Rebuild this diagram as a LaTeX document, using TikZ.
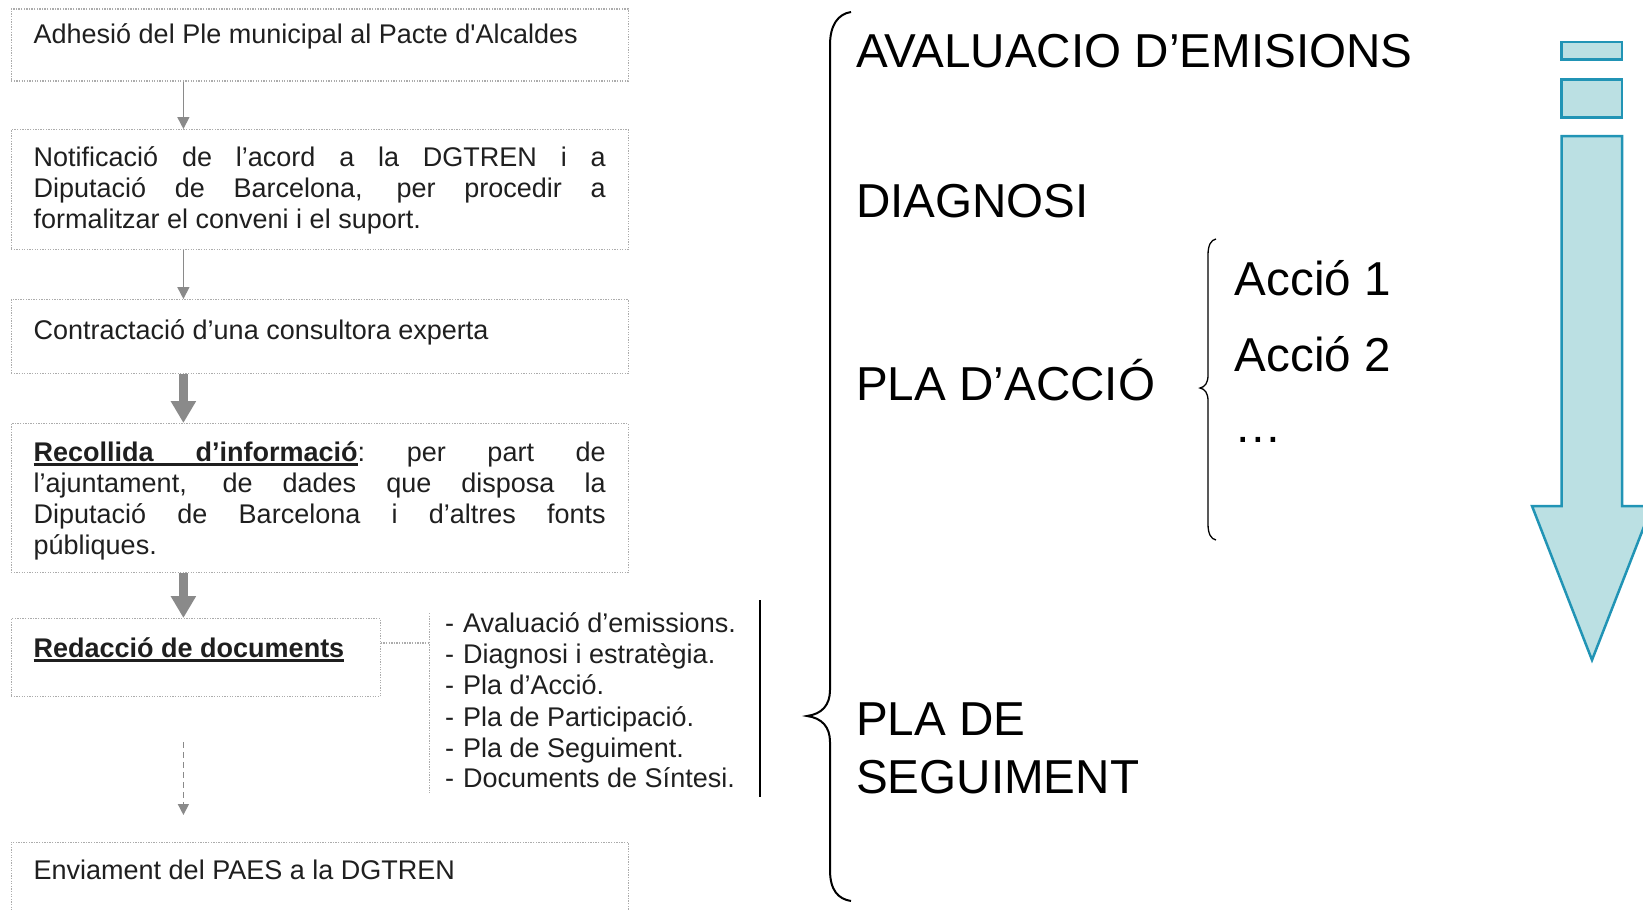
\documentclass[tikz,border=0pt]{standalone}
\usepackage{fontspec}
\setmainfont{Liberation Sans}
\usetikzlibrary{arrows.meta}
\definecolor{boxline}{RGB}{172,172,172}
\definecolor{arrgray}{RGB}{138,138,138}
\definecolor{tealfill}{RGB}{187,224,227}
\definecolor{tealline}{RGB}{33,148,181}
\newcommand\thul[1]{\vtop{\hbox{#1}\kern2pt\hrule height 2.6pt}}
\begin{document}
\begin{tikzpicture}[x=1pt,y=-1pt,
  flowbox/.style={draw=boxline, line width=1.3pt, dash pattern=on 1.3pt off 1.3pt, anchor=north west, inner sep=0pt},
  txt/.style={anchor=base west, inner sep=0pt, font=\fontsize{27}{31}\selectfont, text=black!88},
  big/.style={anchor=base west, inner sep=0pt, font=\fontsize{47.6}{52}\selectfont},
  thinarr/.style={draw=arrgray, line width=1.6pt, -{Triangle[width=12pt,length=12pt]}},
  thickarr/.style={draw=arrgray, line width=9pt, -{Triangle[width=24pt,length=22pt]}},
  dasharr/.style={draw=arrgray, line width=1.4pt, dash pattern=on 6pt off 4pt, -{Triangle[width=11pt,length=11pt]}},
  dotline/.style={draw=boxline, line width=1.3pt, dash pattern=on 1.3pt off 1.3pt},
  bracel/.style={draw=black, line width=2pt},
  tealshape/.style={fill=tealfill, draw=tealline, line width=2.5pt}
]
\useasboundingbox (0,0) rectangle (1643,910);
\clip (0,0) rectangle (1643,910);
% boxes
\node[flowbox, minimum width=617pt, minimum height=72pt] (b1) at (10.5,8.4) {};
\node[flowbox, minimum width=617pt, minimum height=120pt] (b2) at (10.5,129) {};
\node[flowbox, minimum width=617pt, minimum height=74pt] (b3) at (10.5,299) {};
\node[flowbox, minimum width=617pt, minimum height=149pt] (b4) at (10.5,423) {};
\node[flowbox, minimum width=369pt, minimum height=78pt] (b5) at (10.5,618) {};
\node[flowbox, minimum width=617pt, minimum height=90pt] (b6) at (10.5,841.5) {};
% texts
\node[txt] (t1) at (33.5,43) {Adhesió del Ple municipal al Pacte d\textquotesingle Alcaldes};
\node[txt] (t2a) at (33.5,166) {\makebox[572pt][s]{Notificació de l’acord a la DGTREN i a}};
\node[txt] (t2b) at (33.5,197) {\makebox[572pt][s]{Diputació de Barcelona, per procedir a}};
\node[txt] (t2c) at (33.5,228) {formalitzar el conveni i el suport.};
\node[txt] (t3) at (33.5,339) {Contractació d’una consultora experta};
\node[txt] (t4a) at (33.5,461) {\hbox to 572pt{\thul{\hbox to 324pt{\bfseries Recollida\hfill d’informació}}:\hfill per\hfill part\hfill de}};
\node[txt] (t4b) at (33.5,492) {\makebox[572pt][s]{l’ajuntament, de dades que disposa la}};
\node[txt] (t4c) at (33.5,523) {\makebox[572pt][s]{Diputació de Barcelona i d’altres fonts}};
\node[txt] (t4d) at (33.5,554) {públiques.};
\node[txt] (t5) at (33.5,657) {\thul{\bfseries Redacció de documents}};
\node[txt] (t6) at (33.5,879) {Enviament del PAES a la DGTREN};
% list
\node[txt] (l1) at (445,632) {-\hspace{9pt}Avaluació d’emissions.};
\node[txt] (l2) at (445,663) {-\hspace{9pt}Diagnosi i estratègia.};
\node[txt] (l3) at (445,694) {-\hspace{9pt}Pla d’Acció.};
\node[txt] (l4) at (445,726) {-\hspace{9pt}Pla de Participació.};
\node[txt] (l5) at (445,757) {-\hspace{9pt}Pla de Seguiment.};
\node[txt] (l6) at (445,787) {-\hspace{9pt}Documents de Síntesi.};
% arrows
\coordinate (ax) at (183.4,0);
\draw[thinarr] (b1.south -| ax) -- (b2.north -| ax);
\draw[thinarr] (b2.south -| ax) -- (b3.north -| ax);
\draw[thickarr] (b3.south -| ax) -- (b4.north -| ax);
\draw[thickarr] (b4.south -| ax) -- (b5.north -| ax);
\coordinate (d1) at (183.4,742);
\coordinate (d2) at (183.4,815);
\draw[dasharr] (d1) -- (d2);
% list connectors
\coordinate (lj) at (429.7,643);
\coordinate (lt) at (429.7,613);
\coordinate (lb) at (429.7,793);
\draw[dotline] (b5.east |- lj) -- (lj);
\draw[dotline] (lt) -- (lb);
\coordinate (st) at (760,600);
\coordinate (sb) at (760,797);
\draw[black, line width=2pt] (st) -- (sb);
% big brace
\draw[bracel] (851,12) .. controls (838,14) and (830,25) .. (830,45) -- (830,690) .. controls (830,705) and (822,714) .. (807,716) .. controls (822,718) and (830,727) .. (830,742) -- (830,870) .. controls (830,890) and (838,899) .. (851,901);
% right texts
\node[big] (r1) at (856,67) {AVALUACIO D’EMISIONS};
\node[big] (r2) at (856,217) {DIAGNOSI};
\node[big] (r3) at (856,400) {PLA D’ACCIÓ};
\node[big] (r4) at (856,735) {PLA DE};
\node[big] (r5) at (856,793) {SEGUIMENT};
% small brace
\draw[black, line width=1.3pt] (1216,239) .. controls (1211,240) and (1208,245) .. (1208,255) -- (1208,375) .. controls (1208,383) and (1205,387) .. (1200,388) .. controls (1205,389) and (1208,393) .. (1208,401) -- (1208,524) .. controls (1208,534) and (1211,539) .. (1216,540);
\node[big] (a1) at (1234.5,295.5) {Acció 1};
\node[big] (a2) at (1234.5,371) {Acció 2};
\node[big] (a3) at (1234.5,442) {…};
% teal arrow
\draw[tealshape] (1561.5,42) rectangle (1622,59.7);
\draw[tealshape] (1561.5,79.6) rectangle (1622,117.4);
\draw[tealshape] (1561.5,136) -- (1622,136) -- (1622,506) -- (1652,506) -- (1592,660) -- (1532,506) -- (1561.5,506) -- cycle;
\end{tikzpicture}
\end{document}
